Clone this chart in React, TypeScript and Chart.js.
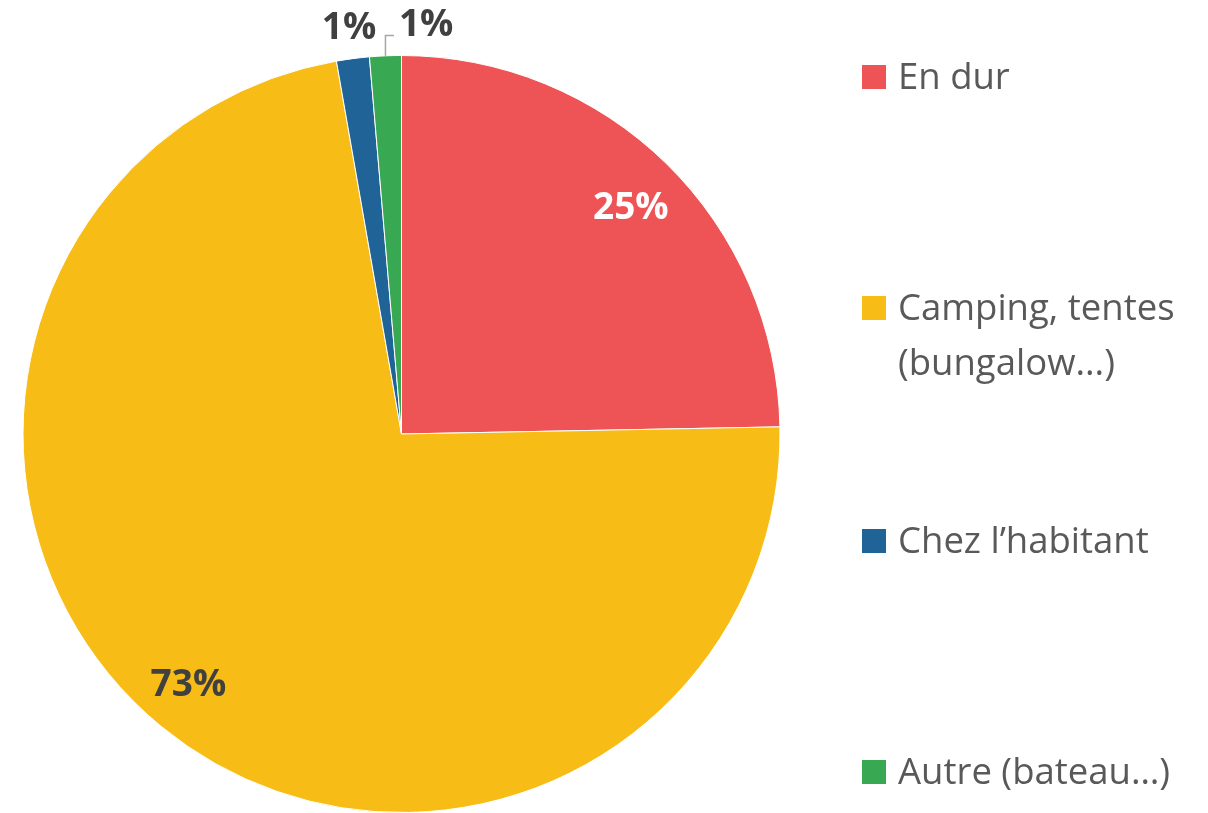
import React, { useEffect, useRef } from "react";
import { Chart, registerables } from "chart.js";

Chart.register(...registerables);

const categories: string[][] = [
  ["En dur"],
  ["Camping, tentes", "(bungalow...)"],
  ["Chez l’habitant"],
  ["Autre (bateau…)"],
];
const shares: number[] = [24.7, 72.55, 1.4, 1.35];
const colors: string[] = ["#EE5455", "#F8BC16", "#1F6397", "#38A852"];
const labelColors: string[] = ["#FFFFFF", "#404040", "#404040", "#404040"];

const FONT = "'Open Sans', 'DejaVu Sans', sans-serif";

const labelPlugin = {
  id: "pctLabels",
  afterDatasetsDraw(chart: any) {
    const ctx = chart.ctx as CanvasRenderingContext2D;
    const meta = chart.getDatasetMeta(0);
    const factors = [0.85, 0.86, 1.08, 1.08];
    const shifts = [4, -6, 0, 42];
    ctx.save();
    meta.data.forEach((arc: any, i: number) => {
      const p = arc.getProps(["x", "y", "startAngle", "endAngle", "outerRadius"], true);
      const mid = (p.startAngle + p.endAngle) / 2;
      const r = p.outerRadius * factors[i];
      const x = p.x + Math.cos(mid) * r + shifts[i];
      const y = p.y + Math.sin(mid) * r + (i === 0 ? 4 : 0);
      const txt = Math.round(shares[i]) + "%";
      ctx.font = `bold 37px ${FONT}`;
      ctx.fillStyle = labelColors[i];
      ctx.textAlign = "center";
      ctx.textBaseline = "middle";
      ctx.fillText(txt, x, y);
      if (i === 3) {
        const ex = p.x + Math.cos(mid) * p.outerRadius;
        const ey = p.y + Math.sin(mid) * p.outerRadius;
        const w = ctx.measureText(txt).width;
        const ly = y + 10;
        ctx.strokeStyle = "#A6A6A6";
        ctx.lineWidth = 1.5;
        ctx.beginPath();
        ctx.moveTo(ex, ey);
        ctx.lineTo(ex, ly);
        ctx.lineTo(x - w / 2 - 5, ly);
        ctx.stroke();
      }
    });
    ctx.restore();
  },
};

const legendPlugin = {
  id: "sideLegend",
  afterDraw(chart: any) {
    const ctx = chart.ctx as CanvasRenderingContext2D;
    const baselines = [89, 320, 553, 784];
    const lineGap = 55;
    ctx.save();
    ctx.font = `36.5px ${FONT}`;
    ctx.textAlign = "left";
    ctx.textBaseline = "alphabetic";
    categories.forEach((lines, i) => {
      const b = baselines[i];
      ctx.fillStyle = colors[i];
      ctx.fillRect(862, b - 24, 24, 24);
      ctx.fillStyle = "#595959";
      lines.forEach((ln, j) => ctx.fillText(ln, 898, b + j * lineGap));
    });
    ctx.restore();
  },
};

export default function App() {
  const ref = useRef<HTMLCanvasElement | null>(null);
  useEffect(() => {
    if (!ref.current) return;
    const chart = new Chart(ref.current, {
      type: "pie",
      data: {
        labels: categories.map((l) => l.join(" ")),
        datasets: [
          {
            data: shares,
            backgroundColor: colors,
            borderColor: "#FFFFFF",
            borderWidth: 1,
          },
        ],
      },
      options: {
        responsive: false,
        animation: false,
        devicePixelRatio: 1,
        layout: { padding: { top: 55, bottom: -3, left: 21, right: 426 } },
        plugins: {
          legend: { display: false },
          tooltip: { enabled: false },
        },
      },
      plugins: [labelPlugin, legendPlugin],
    });
    return () => chart.destroy();
  }, []);
  return (
    <div style={{ position: "absolute", left: 0, top: 0, width: 1208, height: 813, background: "#fff" }}>
      <canvas ref={ref} width={1208} height={813} />
    </div>
  );
}
